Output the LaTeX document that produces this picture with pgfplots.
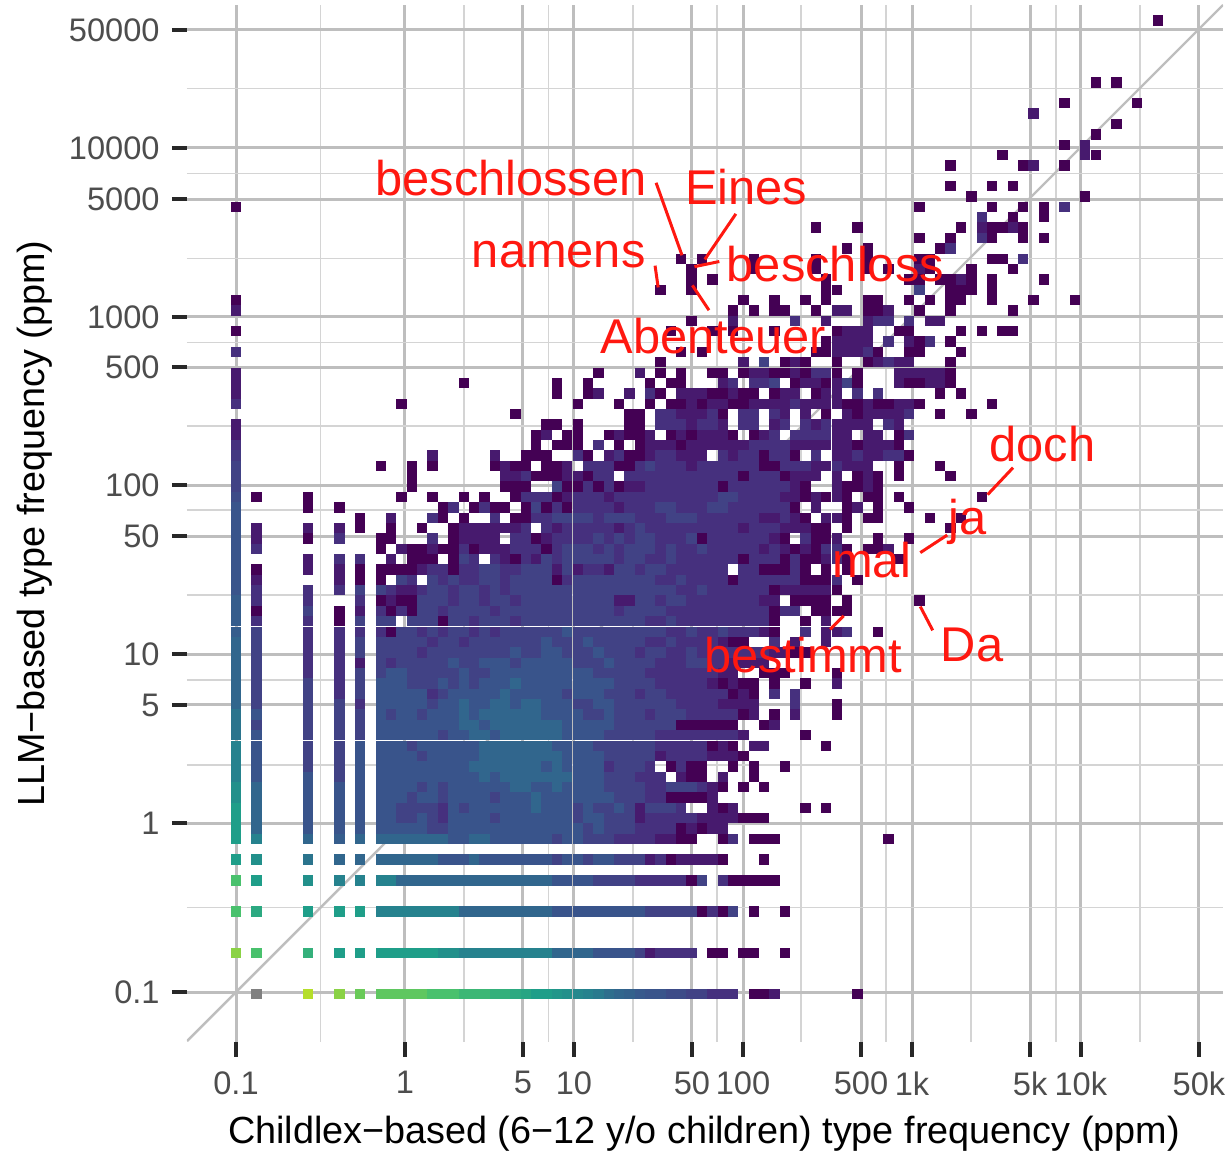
\documentclass[border=0pt]{standalone}
\usepackage{pgfplots}
\pgfplotsset{compat=1.18}
\usepackage{pgfplotstable}
\usepackage{fontspec}
\setmainfont{Liberation Sans}
\definecolor{majgrid}{RGB}{190,190,190}
\definecolor{mingrid}{RGB}{212,212,212}
\definecolor{ticktext}{RGB}{77,77,77}
\definecolor{tickmark}{RGB}{40,40,40}
\definecolor{lab}{RGB}{255,24,16}
% k = x bin, j = y bin (16.31 bins per decade), c = colour level of the tile
\pgfplotstableread{
k j c
7 0 9
10 0 8.6
12 0 8.3
14 0 8.2
15 0 8.2
16 0 8.2
17 0 8.2
18 0 8.2
19 0 8
20 0 8
21 0 8
22 0 7.7
23 0 7.7
24 0 7.7
25 0 7.5
26 0 7.5
27 0 7.3
28 0 7.2
29 0 7
30 0 7
31 0 6.7
32 0 6.5
33 0 6.2
34 0 6
35 0 5.7
36 0 5.3
37 0 5
38 0 4.7
39 0 4.3
40 0 4
41 0 4
42 0 3.5
43 0 3.5
44 0 3
45 0 3
46 0 2
47 0 2
48 0 2
50 0 0
51 0 0
52 0 1
60 0 0
0 4 8.6
2 4 8
7 4 7.5
10 4 7
12 4 7
14 4 7
15 4 7
16 4 7
17 4 7
18 4 7
19 4 7
20 4 6.5
21 4 6.5
22 4 6
23 4 6
24 4 6
25 4 6
26 4 6
27 4 6
28 4 6
29 4 6
30 4 6
31 4 5
32 4 5
33 4 5
34 4 5
35 4 4
36 4 4
37 4 4
38 4 4
39 4 3
40 4 1
41 4 2
42 4 2
43 4 2
44 4 2
46 4 0
47 4 0
49 4 0
50 4 0
53 4 0
0 8 8
2 8 7.3
7 8 7
10 8 7
12 8 7
14 8 6
15 8 6
16 8 6
17 8 6
18 8 6
19 8 6
20 8 6
21 8 6
22 8 5
23 8 5
24 8 5
25 8 5
26 8 5
27 8 5
28 8 5
29 8 5
30 8 5
31 8 4
32 8 4
33 8 4
34 8 4
35 8 4
36 8 4
37 8 4
38 8 4
39 8 4
40 8 3
41 8 3
42 8 3
43 8 3
44 8 3
45 8 0
46 8 2
47 8 0
48 8 3
50 8 0
53 8 0
0 11 8
2 11 7
7 11 6.5
10 11 6
12 11 6
14 11 6
15 11 6
16 11 5
17 11 5
18 11 5
19 11 5
20 11 5
21 11 5
22 11 5
23 11 5
24 11 5
25 11 5
26 11 5
27 11 5
28 11 5
29 11 5
30 11 5
31 11 4
32 11 4
33 11 4
34 11 4
35 11 3
36 11 3
37 11 3
38 11 3
39 11 2
40 11 2
41 11 2
42 11 2
43 11 2
44 11 0
45 11 3
47 11 2
48 11 0
49 11 0
50 11 0
51 11 0
52 11 0
0 13 7
2 13 6.5
7 13 5.5
10 13 5
12 13 5
14 13 5
15 13 5
16 13 5
17 13 5
18 13 5
19 13 5
20 13 4
21 13 4
22 13 4
23 13 5
24 13 4
25 13 4
26 13 4
27 13 4
28 13 4
29 13 4
30 13 4
31 13 3
32 13 4
33 13 4
34 13 3
35 13 4
36 13 4
37 13 3
38 13 3
39 13 3
40 13 1
41 13 2
42 13 0
43 13 1
44 13 1
45 13 1
46 13 1
47 13 0
51 13 0
14 15 5
15 15 5
16 15 5
17 15 5
18 15 5
19 15 5
20 15 5
21 15 4
22 15 4
23 15 5
24 15 5
25 15 4
26 15 4
27 15 4
28 15 4
29 15 4
30 15 4
31 15 3
32 15 4
33 15 4
34 15 3
35 15 3
36 15 3
37 15 2
38 15 2
39 15 2
40 15 2
41 15 1
42 15 1
43 15 0
44 15 0
47 15 0
48 15 2
50 15 0
51 15 0
52 15 0
63 15 0
14 16 4
15 16 4
16 16 4
17 16 4
18 16 4
19 16 3
20 16 3
21 16 4
22 16 4
23 16 4
24 16 4
25 16 4
26 16 4
27 16 4
28 16 4
29 16 4
30 16 4
31 16 4
32 16 4
33 16 4
34 16 3
35 16 4
36 16 3
37 16 3
38 16 3
39 16 2
40 16 2
41 16 2
42 16 2
43 16 0
44 16 1
45 16 0
46 16 1
47 16 1
14 17 4
15 17 4
16 17 3
17 17 3
18 17 4
19 17 3
20 17 2
21 17 4
22 17 4
23 17 4
24 17 4
25 17 3
26 17 4
27 17 4
28 17 4
29 17 4
30 17 4
31 17 4
32 17 4
33 17 3
34 17 4
35 17 4
36 17 3
37 17 3
38 17 3
39 17 1
40 17 2
41 17 2
42 17 2
43 17 2
44 17 2
45 17 1
46 17 1
47 17 1
48 17 1
49 17 0
50 17 0
51 17 0
14 18 4
15 18 4
16 18 3
17 18 3
18 18 3
19 18 3
20 18 2
21 18 4
22 18 3
23 18 4
24 18 4
25 18 4
26 18 4
27 18 4
28 18 4
29 18 5
30 18 4
31 18 4
32 18 4
33 18 3
34 18 4
35 18 3
36 18 3
37 18 4
38 18 3
39 18 1
40 18 3
41 18 3
42 18 3
43 18 2
46 18 1
47 18 0
48 18 1
55 18 0
57 18 0
14 19 4
15 19 4
16 19 4
17 19 3
18 19 4
19 19 4
20 19 3
21 19 4
22 19 4
23 19 4
24 19 4
25 19 3
26 19 4
27 19 4
28 19 4
29 19 5
30 19 4
31 19 4
32 19 4
33 19 4
34 19 4
35 19 4
36 19 4
37 19 3
38 19 3
39 19 3
40 19 2
41 19 2
42 19 0
43 19 0
44 19 0
45 19 0
46 19 1
14 20 4
15 20 4
16 20 4
17 20 4
18 20 3
19 20 4
20 20 3
21 20 4
22 20 4
23 20 4
24 20 4
25 20 4
26 20 4
27 20 5
28 20 5
29 20 4
30 20 4
31 20 5
32 20 4
33 20 4
34 20 4
35 20 4
36 20 3
37 20 3
38 20 3
39 20 3
40 20 2
41 20 2
42 20 3
43 20 3
44 20 3
45 20 2
46 20 1
47 20 0
49 20 0
51 20 0
14 21 4
15 21 4
16 21 4
17 21 4
18 21 4
19 21 4
20 21 4
21 21 4
22 21 4
23 21 4
24 21 5
25 21 4
26 21 5
27 21 5
28 21 5
29 21 5
30 21 5
31 21 5
32 21 5
33 21 4
34 21 4
35 21 4
36 21 3
37 21 3
38 21 3
39 21 2
40 21 2
41 21 2
43 21 1
44 21 0
45 21 0
47 21 1
50 21 0
14 22 4
15 22 4
16 22 4
17 22 4
18 22 4
19 22 4
20 22 4
21 22 4
22 22 4
23 22 5
24 22 5
25 22 5
26 22 5
27 22 5
28 22 5
29 22 5
30 22 4
31 22 5
32 22 4
33 22 4
34 22 4
35 22 4
36 22 2
37 22 3
38 22 3
39 22 3
40 22 2
42 22 0
43 22 2
44 22 0
45 22 0
48 22 0
50 22 0
53 22 0
14 23 4
15 23 4
16 23 4
17 23 4
18 23 3
19 23 4
20 23 4
21 23 4
22 23 4
23 23 4
24 23 5
25 23 5
26 23 5
27 23 5
28 23 5
29 23 5
30 23 5
31 23 5
32 23 4
33 23 4
34 23 4
35 23 4
36 23 3
37 23 3
38 23 3
39 23 3
40 23 3
41 23 1
42 23 2
43 23 2
44 23 2
45 23 2
46 23 1
47 23 1
48 23 1
49 23 0
14 24 4
15 24 4
16 24 4
17 24 3
18 24 4
19 24 4
20 24 4
21 24 4
22 24 4
23 24 4
24 24 5
25 24 5
26 24 5
27 24 5
28 24 5
29 24 5
30 24 5
31 24 4
32 24 4
33 24 4
34 24 4
35 24 3
36 24 3
37 24 3
38 24 3
39 24 3
40 24 3
41 24 2
42 24 2
43 24 2
44 24 2
45 24 2
46 24 0
47 24 1
48 24 0
50 24 1
51 24 1
57 24 0
14 25 4
15 25 4
16 25 4
17 25 4
18 25 4
19 25 4
20 25 3
21 25 4
22 25 4
23 25 5
24 25 5
25 25 4
26 25 5
27 25 5
28 25 5
29 25 5
30 25 5
31 25 5
32 25 4
33 25 4
34 25 4
35 25 4
36 25 3
37 25 3
38 25 3
39 25 3
40 25 3
41 25 2
42 25 2
43 25 2
44 25 2
45 25 2
46 25 2
47 25 2
48 25 2
49 25 1
55 25 0
14 26 4
15 26 4
16 26 4
17 26 4
18 26 4
19 26 4
20 26 4
21 26 4
22 26 5
23 26 5
24 26 4
25 26 5
26 26 5
27 26 5
28 26 5
29 26 5
30 26 5
31 26 5
32 26 4
33 26 4
34 26 4
35 26 4
36 26 4
37 26 3
38 26 3
39 26 3
40 26 3
41 26 3
42 26 3
43 26 0
44 26 0
45 26 0
46 26 0
47 26 0
48 26 0
51 26 0
52 26 1
14 27 4
15 27 3
16 27 4
17 27 4
18 27 3
19 27 4
20 27 4
21 27 4
22 27 5
23 27 4
24 27 5
25 27 5
26 27 5
27 27 5
28 27 5
29 27 5
30 27 4
31 27 4
32 27 4
33 27 4
34 27 3
35 27 3
36 27 4
37 27 3
38 27 3
39 27 3
40 27 2
41 27 3
42 27 3
43 27 3
44 27 2
45 27 2
46 27 2
47 27 2
48 27 2
49 27 0
50 27 1
52 27 0
54 27 1
58 27 0
14 28 4
15 28 4
16 28 4
17 28 4
18 28 4
19 28 3
20 28 4
21 28 4
22 28 5
23 28 4
24 28 4
25 28 5
26 28 5
27 28 4
28 28 5
29 28 5
30 28 4
31 28 4
32 28 4
33 28 3
34 28 3
35 28 4
36 28 4
37 28 3
38 28 3
39 28 3
40 28 3
41 28 3
42 28 3
43 28 2
44 28 2
45 28 2
46 28 2
47 28 1
48 28 1
49 28 1
50 28 1
54 28 2
58 28 0
14 29 4
15 29 4
16 29 4
17 29 4
18 29 4
19 29 2
20 29 3
21 29 4
22 29 4
23 29 4
24 29 4
25 29 4
26 29 5
27 29 4
28 29 4
29 29 4
30 29 4
31 29 4
32 29 3
33 29 4
34 29 4
35 29 4
36 29 3
37 29 3
38 29 3
39 29 2
40 29 3
41 29 3
42 29 2
43 29 2
44 29 2
45 29 2
46 29 2
47 29 2
48 29 0
49 29 1
50 29 0
52 29 2
54 29 2
14 30 4
15 30 4
16 30 4
17 30 3
18 30 3
19 30 3
20 30 4
21 30 3
22 30 4
23 30 3
24 30 4
25 30 4
26 30 4
27 30 5
28 30 4
29 30 4
30 30 4
31 30 4
32 30 4
33 30 4
34 30 4
35 30 4
36 30 4
37 30 3
38 30 3
39 30 3
40 30 3
41 30 2
42 30 2
43 30 2
44 30 2
45 30 2
46 30 1
47 30 0
48 30 1
49 30 0
50 30 0
52 30 0
55 30 0
58 30 1
14 31 3
15 31 4
16 31 4
17 31 3
18 31 3
19 31 3
20 31 3
21 31 3
22 31 4
23 31 3
24 31 3
25 31 4
26 31 4
27 31 4
28 31 4
29 31 4
30 31 4
31 31 4
32 31 4
33 31 4
34 31 4
35 31 3
36 31 3
37 31 3
38 31 3
39 31 3
40 31 2
41 31 2
42 31 2
43 31 2
44 31 2
45 31 2
46 31 2
47 31 1
48 31 1
51 31 0
52 31 0
53 31 0
58 31 0
14 32 3
15 32 2
16 32 3
17 32 3
18 32 3
19 32 3
20 32 3
21 32 4
22 32 3
23 32 3
24 32 4
25 32 4
26 32 4
27 32 3
28 32 4
29 32 4
30 32 4
31 32 4
32 32 4
33 32 3
34 32 3
35 32 3
36 32 4
37 32 3
38 32 3
39 32 3
40 32 3
41 32 2
42 32 2
43 32 2
44 32 3
45 32 3
46 32 2
47 32 2
48 32 1
49 32 1
50 32 1
51 32 1
14 33 3
15 33 3
16 33 3
17 33 3
18 33 2
19 33 3
20 33 3
21 33 3
22 33 3
23 33 3
24 33 3
25 33 3
26 33 3
27 33 4
28 33 3
29 33 3
30 33 4
31 33 4
32 33 3
33 33 3
34 33 3
35 33 4
36 33 3
37 33 3
38 33 3
39 33 2
40 33 3
41 33 3
42 33 2
43 33 2
44 33 3
45 33 2
46 33 2
47 33 2
48 33 2
49 33 2
50 33 2
51 33 2
52 33 1
53 33 1
54 33 0
55 33 0
14 34 3
15 34 3
16 34 3
17 34 3
18 34 3
19 34 2
20 34 3
21 34 3
22 34 2
23 34 3
24 34 3
25 34 3
26 34 3
27 34 3
28 34 3
29 34 3
30 34 4
31 34 3
32 34 3
33 34 3
34 34 4
35 34 3
36 34 3
37 34 3
38 34 3
39 34 3
40 34 2
41 34 2
42 34 3
43 34 2
44 34 2
45 34 2
46 34 2
47 34 1
48 34 0
49 34 0
52 34 2
54 34 1
57 34 1
14 35 2
15 35 0
16 35 3
17 35 3
18 35 2
19 35 3
20 35 2
21 35 3
22 35 3
23 35 2
24 35 3
25 35 2
26 35 3
27 35 3
28 35 3
29 35 3
30 35 3
31 35 3
32 35 4
33 35 3
34 35 3
35 35 3
36 35 3
37 35 3
38 35 3
39 35 3
40 35 3
41 35 3
42 35 2
43 35 2
44 35 3
45 35 2
46 35 2
47 35 3
48 35 2
49 35 2
50 35 2
51 35 1
52 35 0
55 35 2
57 35 1
58 35 1
59 35 2
62 35 0
14 36 3
15 36 3
17 36 3
18 36 3
19 36 3
20 36 0
21 36 3
22 36 3
23 36 2
24 36 3
25 36 3
26 36 3
27 36 2
28 36 3
29 36 3
30 36 3
31 36 3
32 36 3
33 36 3
34 36 3
35 36 3
36 36 3
37 36 3
38 36 3
39 36 3
40 36 2
41 36 2
42 36 3
43 36 2
44 36 2
45 36 2
46 36 2
47 36 2
48 36 2
49 36 2
50 36 2
51 36 2
52 36 0
55 36 0
57 36 1
14 37 2
15 37 0
16 37 2
17 37 0
18 37 3
19 37 3
20 37 2
21 37 3
22 37 3
23 37 3
24 37 3
25 37 2
26 37 3
27 37 3
28 37 3
29 37 3
30 37 3
31 37 3
32 37 3
33 37 3
34 37 3
35 37 3
36 37 3
37 37 2
38 37 3
39 37 3
40 37 3
41 37 3
42 37 2
43 37 2
44 37 2
45 37 2
46 37 2
47 37 2
48 37 2
49 37 2
50 37 2
51 37 2
52 37 0
53 37 2
54 37 2
56 37 0
57 37 0
58 37 0
59 37 0
14 38 0
15 38 1
16 38 0
17 38 0
18 38 3
19 38 3
20 38 3
21 38 2
22 38 3
23 38 3
24 38 2
25 38 3
26 38 3
27 38 2
28 38 3
29 38 3
30 38 3
31 38 3
32 38 3
33 38 3
34 38 3
35 38 3
36 38 3
37 38 1
38 38 1
39 38 3
40 38 3
41 38 2
42 38 3
43 38 3
44 38 2
45 38 2
46 38 2
47 38 2
48 38 2
49 38 2
50 38 2
51 38 1
52 38 1
54 38 0
55 38 0
56 38 0
57 38 0
59 38 0
66 38 0
14 39 3
15 39 2
16 39 1
17 39 1
18 39 2
19 39 3
20 39 3
21 39 2
22 39 3
23 39 3
24 39 2
25 39 3
26 39 2
27 39 3
28 39 3
29 39 3
30 39 3
31 39 3
32 39 3
33 39 3
34 39 3
35 39 3
36 39 3
37 39 3
38 39 3
39 39 3
40 39 3
41 39 3
42 39 3
43 39 2
44 39 2
45 39 3
46 39 2
47 39 2
48 39 2
49 39 2
50 39 2
51 39 2
52 39 0
53 39 1
54 39 1
55 39 1
56 39 1
57 39 1
58 39 0
14 40 0
16 40 3
17 40 2
19 40 3
20 40 2
21 40 3
22 40 2
23 40 2
24 40 3
25 40 3
26 40 2
27 40 3
28 40 3
29 40 3
30 40 3
31 40 0
32 40 2
33 40 3
34 40 3
35 40 3
36 40 3
37 40 3
38 40 3
39 40 3
40 40 3
41 40 2
42 40 2
43 40 3
44 40 2
45 40 2
46 40 2
47 40 2
48 40 0
49 40 2
50 40 2
51 40 2
52 40 2
53 40 2
54 40 2
55 40 0
56 40 0
57 40 0
58 40 2
60 40 0
14 41 0
15 41 0
16 41 0
17 41 0
18 41 1
19 41 2
20 41 2
21 41 0
22 41 2
23 41 2
24 41 3
25 41 3
26 41 2
27 41 2
28 41 3
29 41 3
30 41 3
31 41 1
32 41 3
33 41 1
34 41 2
35 41 2
36 41 1
37 41 3
38 41 3
39 41 2
40 41 3
41 41 3
42 41 2
43 41 2
44 41 2
45 41 2
46 41 2
47 41 2
49 41 2
50 41 2
51 41 0
52 41 0
53 41 0
54 41 2
55 41 0
57 41 0
59 41 0
15 42 1
17 42 0
18 42 0
19 42 0
21 42 0
22 42 3
23 42 2
25 42 2
26 42 1
27 42 0
28 42 2
29 42 1
30 42 3
31 42 2
32 42 3
33 42 3
34 42 3
35 42 3
36 42 3
37 42 2
38 42 3
39 42 3
40 42 2
41 42 2
42 42 3
43 42 2
44 42 2
45 42 2
46 42 2
47 42 2
48 42 2
49 42 0
50 42 2
51 42 2
52 42 2
53 42 0
54 42 2
55 42 0
56 42 0
57 42 1
58 42 2
59 42 0
64 42 0
14 43 0
16 43 1
17 43 0
18 43 0
19 43 1
20 43 0
21 43 0
22 43 2
23 43 0
24 43 1
25 43 1
26 43 1
27 43 2
28 43 2
29 43 2
30 43 0
31 43 2
32 43 3
33 43 3
34 43 3
35 43 2
36 43 3
37 43 2
38 43 3
39 43 3
40 43 3
41 43 2
42 43 3
43 43 2
44 43 2
45 43 3
46 43 2
47 43 2
48 43 2
49 43 2
50 43 2
51 43 1
52 43 2
53 43 1
54 43 0
55 43 1
56 43 0
57 43 2
58 43 2
59 43 0
61 43 0
62 43 0
63 43 1
14 44 0
15 44 0
19 44 2
21 44 0
22 44 1
23 44 1
24 44 1
25 44 1
27 44 2
28 44 2
29 44 0
30 44 1
31 44 2
32 44 2
33 44 2
34 44 2
35 44 3
36 44 2
37 44 3
38 44 2
39 44 3
40 44 3
41 44 2
42 44 2
43 44 2
44 44 3
45 44 0
46 44 2
47 44 2
48 44 2
49 44 2
50 44 2
51 44 2
52 44 1
53 44 0
55 44 2
56 44 0
57 44 0
58 44 1
62 44 0
65 44 0
15 45 0
18 45 0
21 45 0
22 45 1
23 45 1
24 45 1
25 45 1
26 45 1
27 45 1
28 45 2
30 45 2
31 45 1
32 45 2
33 45 2
34 45 2
35 45 2
36 45 2
37 45 1
38 45 2
39 45 3
40 45 2
41 45 2
42 45 2
43 45 2
44 45 2
45 45 2
46 45 2
47 45 2
48 45 2
49 45 1
50 45 2
51 45 2
52 45 2
53 45 1
54 45 1
55 45 1
56 45 0
57 45 0
59 45 0
69 45 0
15 46 1
19 46 2
20 46 0
22 46 0
25 46 2
27 46 0
28 46 0
29 46 2
30 46 2
31 46 3
32 46 3
33 46 3
34 46 3
35 46 2
36 46 3
37 46 3
38 46 3
39 46 2
40 46 2
41 46 2
42 46 3
43 46 3
44 46 3
45 46 2
46 46 2
47 46 2
48 46 2
49 46 2
50 46 2
51 46 1
52 46 1
53 46 2
54 46 1
55 46 0
57 46 1
58 46 1
59 46 0
61 46 0
62 46 0
67 46 0
70 46 0
20 47 0
21 47 2
23 47 0
24 47 2
25 47 0
26 47 0
28 47 0
29 47 3
30 47 0
31 47 2
32 47 0
33 47 2
34 47 2
35 47 2
36 47 2
37 47 1
38 47 2
39 47 2
40 47 2
41 47 3
42 47 3
43 47 2
44 47 2
45 47 2
46 47 3
47 47 3
48 47 2
49 47 2
50 47 2
51 47 2
52 47 2
53 47 2
54 47 0
56 47 1
59 47 0
60 47 1
62 47 0
65 47 0
16 48 0
19 48 0
22 48 0
24 48 0
27 48 0
28 48 2
29 48 2
30 48 2
31 48 0
32 48 1
33 48 2
34 48 2
35 48 2
36 48 1
37 48 2
38 48 2
39 48 2
40 48 2
41 48 2
42 48 2
43 48 2
44 48 2
45 48 2
46 48 2
47 48 3
48 48 3
49 48 2
50 48 2
51 48 2
52 48 2
53 48 1
54 48 1
55 48 0
56 48 1
57 48 0
58 48 1
59 48 0
61 48 0
62 48 0
64 48 0
72 48 0
17 49 0
26 49 0
27 49 0
28 49 0
31 49 3
32 49 0
33 49 0
34 49 2
35 49 0
36 49 2
37 49 0
38 49 1
39 49 1
40 49 2
41 49 2
42 49 2
43 49 2
44 49 2
45 49 2
46 49 2
47 49 0
48 49 2
49 49 2
50 49 2
51 49 2
52 49 2
53 49 2
54 49 1
55 49 0
58 49 1
59 49 0
60 49 0
61 49 1
62 49 0
17 50 0
26 50 1
27 50 1
28 50 2
29 50 0
30 50 0
31 50 0
32 50 1
33 50 1
34 50 0
35 50 2
36 50 2
38 50 2
39 50 2
40 50 2
41 50 2
42 50 2
43 50 2
44 50 2
45 50 2
46 50 2
47 50 2
48 50 2
49 50 0
50 50 2
51 50 2
52 50 2
53 50 0
54 50 1
55 50 1
56 50 1
58 50 1
60 50 0
61 50 1
62 50 0
64 50 0
69 50 0
14 51 0
17 51 0
19 51 0
25 51 0
26 51 1
27 51 0
28 51 0
30 51 0
31 51 0
32 51 1
34 51 2
35 51 2
36 51 2
37 51 0
38 51 0
39 51 2
40 51 3
41 51 2
42 51 2
43 51 2
44 51 1
45 51 2
46 51 2
47 51 2
48 51 2
49 51 2
50 51 2
51 51 0
52 51 0
53 51 2
54 51 2
55 51 2
56 51 1
57 51 1
58 51 2
59 51 1
60 51 1
61 51 1
64 51 0
68 51 0
19 52 1
25 52 1
28 52 0
29 52 0
30 52 0
33 52 2
34 52 0
36 52 1
37 52 2
38 52 0
39 52 0
40 52 1
41 52 2
42 52 2
43 52 1
44 52 1
45 52 1
47 52 2
48 52 1
49 52 2
50 52 2
51 52 0
52 52 2
53 52 2
54 52 0
56 52 2
58 52 1
59 52 1
60 52 2
61 52 1
62 52 1
63 52 2
64 52 2
65 52 0
29 53 0
31 53 0
32 53 0
33 53 0
35 53 2
37 53 0
39 53 0
40 53 1
41 53 1
42 53 1
43 53 0
44 53 1
45 53 1
46 53 1
47 53 1
48 53 1
49 53 1
50 53 2
51 53 2
52 53 2
53 53 2
54 53 1
55 53 1
56 53 1
57 53 1
58 53 1
59 53 1
60 53 0
61 53 1
62 53 1
63 53 1
64 53 0
29 54 0
30 54 1
32 54 0
33 54 0
36 54 0
37 54 1
38 54 0
39 54 0
40 54 1
42 54 0
43 54 1
44 54 0
45 54 1
46 54 1
47 54 1
48 54 0
50 54 0
51 54 1
52 54 2
54 54 2
55 54 2
56 54 2
57 54 2
58 54 1
59 54 1
61 54 1
62 54 1
64 54 0
65 54 2
30 55 0
31 55 0
33 55 0
38 55 0
39 55 0
41 55 2
42 55 2
43 55 2
44 55 1
45 55 2
46 55 2
47 55 1
49 55 2
50 55 2
52 55 1
53 55 2
55 55 2
56 55 1
57 55 2
58 55 1
59 55 1
60 55 1
61 55 1
63 55 2
64 55 1
27 56 0
38 56 0
39 56 0
41 56 2
42 56 2
43 56 1
44 56 1
45 56 1
46 56 2
47 56 0
49 56 2
50 56 2
52 56 2
53 56 1
55 56 1
57 56 0
59 56 1
60 56 0
61 56 1
62 56 1
63 56 1
64 56 1
65 56 2
68 56 0
71 56 0
16 57 0
33 57 0
37 57 0
40 57 0
42 57 0
43 57 0
44 57 1
45 57 0
46 57 1
47 57 1
48 57 0
49 57 0
50 57 1
51 57 1
52 57 1
53 57 1
54 57 2
55 57 1
56 57 1
57 57 1
58 57 1
59 57 0
60 57 0
61 57 1
62 57 0
63 57 0
64 57 1
65 57 1
66 57 0
73 57 0
31 58 0
34 58 0
35 58 1
38 58 1
40 58 2
41 58 0
43 58 1
44 58 1
45 58 1
46 58 0
47 58 0
48 58 1
49 58 0
50 58 0
52 58 0
53 58 1
54 58 1
56 58 0
57 58 1
58 58 1
60 58 2
62 58 2
68 58 0
70 58 0
22 59 0
31 59 0
34 59 0
40 59 0
42 59 0
43 59 0
47 59 1
48 59 2
50 59 2
51 59 2
52 59 3
54 59 0
55 59 1
56 59 1
57 59 0
58 59 1
59 59 3
60 59 0
64 59 1
65 59 0
66 59 0
67 59 1
68 59 1
69 59 0
35 60 0
39 60 1
41 60 0
43 60 0
46 60 0
47 60 0
49 60 0
50 60 1
51 60 1
52 60 0
53 60 0
54 60 1
55 60 0
56 60 2
57 60 2
58 60 0
60 60 0
64 60 1
65 60 1
66 60 1
67 60 1
68 60 1
69 60 0
41 61 0
49 61 1
51 61 3
53 61 0
54 61 1
55 61 0
58 61 0
61 61 0
62 61 1
63 61 2
64 61 1
65 61 1
69 61 0
43 62 0
45 62 0
56 62 0
57 62 0
58 62 1
59 62 1
60 62 1
61 62 2
62 62 0
65 62 0
66 62 0
70 62 0
57 63 0
58 63 1
59 63 1
60 63 1
61 63 1
63 63 2
65 63 1
66 63 0
67 63 2
69 63 0
42 64 0
46 64 0
48 64 0
52 64 0
58 64 0
59 64 1
60 64 1
61 64 1
64 64 0
65 64 0
70 64 0
72 64 0
74 64 0
75 64 0
44 65 0
48 65 1
54 65 2
57 65 1
61 65 1
62 65 2
63 65 2
65 65 2
67 65 1
68 65 1
48 66 0
50 66 0
52 66 0
53 66 0
56 66 0
58 66 1
59 66 1
61 66 0
62 66 0
63 66 1
66 66 0
69 66 0
75 66 0
49 67 0
52 67 0
55 67 0
57 67 0
61 67 0
62 67 0
65 67 0
67 67 0
69 67 0
70 67 0
73 67 0
77 67 0
81 67 0
41 68 0
44 68 0
57 68 0
58 68 0
66 68 3
69 68 0
70 68 0
71 68 0
73 68 0
44 69 0
46 69 0
57 69 0
65 69 0
66 69 0
68 69 0
69 69 0
70 69 1
71 69 0
73 69 0
78 69 0
44 70 0
50 70 0
56 70 0
61 70 0
63 70 0
66 70 1
67 70 0
71 70 0
75 70 0
43 71 0
45 71 0
50 71 0
56 71 0
61 71 0
66 71 0
67 71 0
73 71 0
74 71 0
76 71 2
59 72 0
61 72 0
68 72 0
69 72 2
66 73 0
69 73 0
72 73 2
73 73 0
76 73 0
78 73 0
56 74 0
60 74 0
70 74 0
72 74 1
73 74 0
74 74 0
75 74 1
76 74 0
72 75 2
75 75 0
78 75 0
66 76 0
73 76 0
76 76 0
78 76 0
80 76 2
71 77 0
82 77 0
69 78 0
73 78 0
75 78 0
69 80 0
76 80 0
77 80 1
80 80 0
74 81 0
82 81 1
83 81 0
80 82 0
82 82 1
83 83 0
85 84 0
77 85 1
80 86 0
87 86 0
83 88 0
85 88 0
89 94 0
0 15 7
0 16 7
0 17 7
0 18 7
0 19 6.5
0 20 6.5
0 21 6
0 22 6
0 23 6
0 24 6
0 25 5.5
0 26 5.5
0 27 5.5
0 28 5
0 29 5
0 30 5
0 31 5
0 32 5
0 33 5
0 34 5
0 35 4.5
0 36 4.5
0 37 4.5
0 38 4.5
0 39 4
0 40 4
0 41 4
0 42 4
0 43 4
0 44 4
0 45 4
0 46 4
0 47 4
0 48 3.5
0 49 3
0 50 3
0 51 3
0 52 2.5
0 53 2
0 54 1
0 55 1
0 57 2
0 58 1
0 59 1
0 60 1
0 62 2
0 64 0
0 66 1
0 67 0
0 76 0
2 15 6
2 16 5
2 17 5
2 18 5
2 19 5
2 20 5
2 21 4
2 22 4
2 23 4
2 24 4
2 25 4
2 26 3
2 27 4
2 28 3
2 29 3
2 30 3
2 31 3
2 32 3
2 33 3
2 34 3
2 35 3
2 36 2
2 37 0
2 38 2
2 39 2
2 40 1
2 41 0
2 43 2
2 44 1
2 45 1
2 48 0
7 15 5
7 16 4
7 17 4
7 18 4
7 19 4
7 20 4
7 21 4
7 22 3
7 23 3
7 24 3
7 25 3
7 26 3
7 27 3
7 28 3
7 29 3
7 30 3
7 31 2
7 32 2
7 33 2
7 34 2
7 35 2
7 36 2
7 37 3
7 38 2
7 39 2
7 41 1
7 42 1
7 44 0
7 45 1
7 47 0
7 48 0
10 15 4.5
10 16 4
10 17 4
10 18 4
10 19 4
10 20 4
10 21 3
10 22 3
10 23 3
10 24 3
10 25 3
10 26 3
10 27 3
10 28 3
10 29 2
10 30 2
10 31 2
10 32 2
10 33 2
10 34 2
10 35 2
10 36 0
10 37 0
10 39 2
10 40 1
10 41 1
10 42 2
10 44 2
10 45 1
10 47 0
12 15 5
12 16 4
12 17 4
12 18 4
12 19 4
12 20 4
12 21 4
12 22 4
12 23 4
12 24 4
12 25 3
12 26 3
12 27 3
12 28 2
12 29 3
12 30 3
12 31 3
12 32 1
12 33 3
12 34 3
12 35 2
12 36 3
12 37 1
12 38 2
12 39 3
12 40 0
12 41 0
12 42 2
12 45 0
12 46 0
}\cells
\begin{document}
\begin{tikzpicture}
\useasboundingbox (-93.5pt,-54.5pt) rectangle (522.5pt,521pt);
\begin{axis}[
    scale only axis,
    width=518pt,
    height=518.5pt,
    at={(0pt,0pt)},
    anchor=south west,
    xmin=-4.68, xmax=95.32,
    ymin=-4.63, ymax=95.46,
    clip mode=individual,
    xtick={0.05,16.36,27.75,32.67,44.06,48.99,60.38,65.3,76.7,81.6,93},
    xticklabels={0.1,1,5,10,50,100,500,1k,5k,10k,50k},
    ytick={0.19,16.5,27.9,32.8,44.2,49.1,60.5,65.35,76.7,81.66,93.05},
    yticklabels={0.1,1,5,10,50,100,500,1000,5000,10000,50000},
    minor xtick={8.2,22.06,30.2,38.37,46.5,54.6,62.8,71,79.2,87.3},
    minor ytick={8.35,22.1,30.3,38.5,46.7,54.8,62.9,71,79.2,87.4},
    grid=both,
    major grid style={line width=1.5pt,color=majgrid},
    minor grid style={line width=0.8pt,color=mingrid},
    axis line style={draw=none},
    tick align=outside,
    xtick pos=bottom,
    ytick pos=left,
    major tick length=7.5pt,
    minor tick length=0pt,
    major tick style={line width=2pt,color=tickmark},
    tick label style={font=\fontsize{16.3}{16.3}\selectfont,text=ticktext,inner sep=0pt},
    x tick label style={yshift=-7pt},
    y tick label style={xshift=-6pt},
    xlabel={Childlex−based (6−12 y/o children) type frequency (ppm)},
    ylabel={LLM−based type frequency (ppm)},
    label style={font=\fontsize{18.9}{18.9}\selectfont,inner sep=0pt},
    xlabel style={at={(axis description cs:0.499,-0.088)},anchor=center},
    ylabel style={at={(axis description cs:-0.1467,0.5)},anchor=center},
    colormap={tiles}{rgb255=(68,1,84) rgb255=(71,26,110) rgb255=(70,48,126)
      rgb255=(65,66,133) rgb255=(57,84,139) rgb255=(49,102,141) rgb255=(38,130,142)
      rgb255=(31,158,137) rgb255=(73,193,109) rgb255=(181,222,43)},
    point meta min=0,
    point meta max=9,
]
\addplot[color=majgrid,line width=1.2pt] coordinates {(-4.68,-4.54) (95.32,95.46)};
\addplot[scatter,only marks,mark=square*,mark size=2.33pt,
    mark options={line width=0.2pt},
    scatter src=explicit,
    scatter/use mapped color={draw=mapped color,fill=mapped color}]
    table[x=k,y=j,meta=c] {\cells};
\addplot[only marks,mark=square*,mark size=2.33pt,mark options={line width=0.2pt,draw=gray,fill=gray}]
    coordinates {(2,0)};
\addplot[color=lab,line width=1.5pt] coordinates {(40.6,78.3) (43.1,71.3)};
\addplot[color=lab,line width=1.5pt] coordinates {(48.3,75.3) (45.3,70.9)};
\addplot[color=lab,line width=1.5pt] coordinates {(46.7,70.7) (44.3,70.2)};
\addplot[color=lab,line width=1.5pt] coordinates {(40.5,70.3) (40.8,68.2)};
\addplot[color=lab,line width=1.5pt] coordinates {(44.1,68.4) (45.7,66)};
\addplot[color=lab,line width=1.5pt] coordinates {(75.05,50.8) (72.6,48.2)};
\addplot[color=lab,line width=1.5pt] coordinates {(68.7,44.3) (66.1,42.6)};
\addplot[color=lab,line width=1.5pt] coordinates {(66.1,37.4) (67.3,35.1)};
\addplot[color=lab,line width=1.5pt] coordinates {(58.7,36.5) (57.4,35.2)};
\tikzset{rl/.style={font=\fontsize{24.4}{24.4}\selectfont,text=lab,anchor=base,inner sep=0pt}}
\node[rl] at (axis cs:26.6,77.1) {beschlossen};
\node[rl] at (axis cs:49.3,76.2) {Eines};
\node[rl] at (axis cs:31.2,70.1) {namens};
\node[rl] at (axis cs:57.9,68.8) {beschloss};
\node[rl] at (axis cs:46.1,61.8) {Abenteuer};
\node[rl] at (axis cs:77.9,51.4) {doch};
\node[rl] at (axis cs:70.7,44.4) {ja};
\node[rl] at (axis cs:61.4,40.25) {mal};
\node[rl] at (axis cs:71.1,32.05) {Da};
\node[rl] at (axis cs:54.8,31) {bestimmt};
\end{axis}
\end{tikzpicture}
\end{document}
